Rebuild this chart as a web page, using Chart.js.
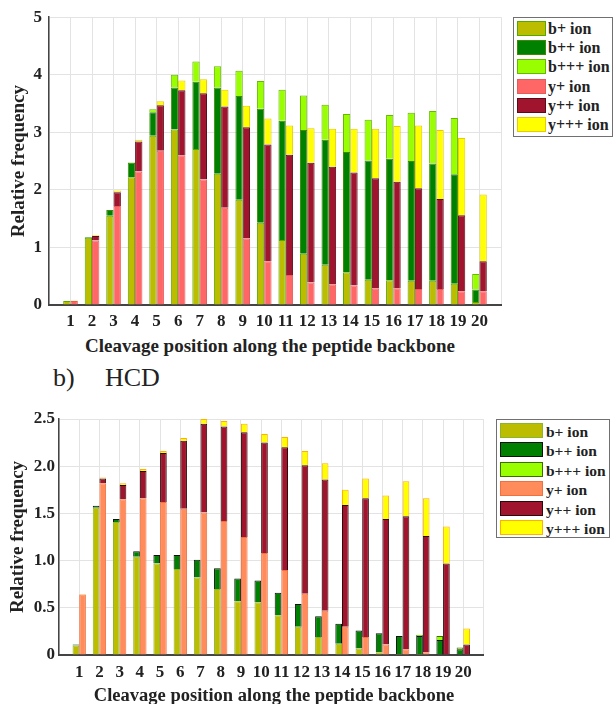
<!DOCTYPE html>
<html>
<head>
<meta charset="utf-8">
<script src="https://cdn.jsdelivr.net/npm/chart.js@4.4.1/dist/chart.umd.min.js"></script>
<style>
  body { margin:0; width:613px; height:704px; overflow:hidden; background:#fff; position:relative;
         font-family:"Liberation Serif","Times New Roman",serif; color:#222; }
  .wrap { position:absolute; left:0; width:613px; }
  .txt { position:absolute; white-space:nowrap; line-height:1; }
  .xtitle { font-weight:bold; transform:translateX(-50%); }
  .legend { position:absolute; border:1.5px solid #707070; box-sizing:border-box; background:#fff; }
  .row { position:absolute; white-space:nowrap; font-weight:bold; line-height:1; }
  .sw { position:absolute; box-sizing:border-box; border:1.5px solid; }
</style>
</head>
<body>
<div class="wrap" style="top:0;height:335px"><canvas id="chartA"></canvas></div>
<div class="txt xtitle" style="left:270px;top:336px;font-size:19px">Cleavage position along the peptide backbone</div>
<div class="txt" style="left:53px;top:365px;font-size:26px">b)</div>
<div class="txt" style="left:105px;top:365px;font-size:26px">HCD</div>
<div class="wrap" style="top:400px;height:290px"><canvas id="chartB"></canvas></div>
<div class="txt xtitle" style="left:274px;top:686px;font-size:18.5px">Cleavage position along the peptide backbone</div>
<div class="legend" id="legA"></div>
<div class="legend" id="legB"></div>
<script>
const positions = [1,2,3,4,5,6,7,8,9,10,11,12,13,14,15,16,17,18,19,20]
const ionNames = ['b+ ion','b++ ion','b+++ ion','y+ ion','y++ ion','y+++ ion']

// upper chart
const aB1 = [0.07,1.17,1.55,2.22,2.94,3.05,2.71,2.28,1.83,1.43,1.13,0.89,0.70,0.57,0.44,0.43,0.42,0.42,0.37,0.05]
const aB2 = [0.00,0.01,0.10,0.25,0.41,0.73,1.17,1.50,1.80,1.98,2.07,2.15,2.17,2.09,2.07,2.11,2.08,2.04,1.90,0.22]
const aB3 = [0.00,0.00,0.00,0.01,0.05,0.22,0.35,0.37,0.44,0.48,0.54,0.60,0.61,0.66,0.71,0.76,0.84,0.91,0.98,0.27]
const aY1 = [0.07,1.12,1.72,2.32,2.68,2.60,2.18,1.69,1.16,0.76,0.52,0.39,0.36,0.34,0.29,0.29,0.28,0.28,0.24,0.24]
const aY2 = [0.00,0.08,0.24,0.52,0.79,1.13,1.50,1.76,1.93,2.03,2.09,2.08,2.04,1.96,1.91,1.85,1.75,1.56,1.32,0.52]
const aY3 = [0.01,0.01,0.03,0.03,0.07,0.17,0.24,0.29,0.37,0.45,0.51,0.60,0.66,0.76,0.86,0.97,1.09,1.20,1.34,1.16]

// HCD
const hB1 = [0.10,1.56,1.41,1.04,0.97,0.91,0.82,0.70,0.57,0.56,0.42,0.30,0.19,0.12,0.07,0.03,0.01,0.01,0.00,0.00]
const hB2 = [0.01,0.02,0.03,0.06,0.09,0.15,0.19,0.22,0.24,0.23,0.24,0.24,0.22,0.21,0.19,0.20,0.19,0.19,0.16,0.06]
const hB3 = [0,0,0,0,0,0,0,0,0,0,0,0,0,0,0,0,0,0.015,0.04,0.02]
const hY1 = [0.64,1.82,1.65,1.66,1.62,1.55,1.51,1.42,1.25,1.08,0.90,0.65,0.47,0.30,0.19,0.11,0.06,0.03,0.005,0.00]
const hY2 = [0.00,0.05,0.15,0.29,0.52,0.72,0.94,1.00,1.11,1.17,1.30,1.36,1.39,1.29,1.47,1.33,1.41,1.23,0.965,0.11]
const hY3 = [0.005,0.01,0.02,0.02,0.02,0.03,0.05,0.06,0.09,0.09,0.11,0.15,0.17,0.16,0.21,0.25,0.37,0.40,0.39,0.17]

const aFill = ['#bcbc00','#008000','#99ff00','#ff6666','#a0142e','#ffff00']
const aLine = ['#55a800','#3d8c00','#66b800','#e85a5a','#5a0a18','#e6cc00']
const hFill = ['#bcbc00','#008000','#99ff00','#ff8c5a','#a0142e','#ffff00']
const hLine = ['#8db52a','#111111','#3c6e00','#f07040','#2a0a0a','#ffb000']

const serif = '"Liberation Serif","Times New Roman",serif'

// empty slot at each end so that 1..20 sit one step in from the axes
function pad(arr) { return [null].concat(arr, [null]) }

function makeChart(id, series, fills, lines, yMax, yStep, g) {
  const datasets = series.map((s, i) => ({
    label: ionNames[i],
    data: pad(s),
    stack: i < 3 ? 'b' : 'y',
    backgroundColor: fills[i],
    borderColor: lines[i],
    borderWidth: 1
  }))
  return new Chart(document.getElementById(id), {
    type: 'bar',
    data: { labels: pad(positions).map(v => v === null ? '' : String(v)), datasets: datasets },
    options: {
      responsive: true,
      maintainAspectRatio: false,
      animation: false,
      categoryPercentage: g.cat,
      barPercentage: 1.0,
      layout: { padding: { top: g.top, right: 613 - g.right, left: 0, bottom: 0 } },
      plugins: { legend: { display: false }, tooltip: { enabled: false } },
      scales: {
        x: {
          stacked: true,
          offset: false,
          grid: { offset: false, color: '#e3e3e3', drawTicks: false },
          border: { color: '#444', width: 2 },
          ticks: { autoSkip: false, maxRotation: 0, padding: g.xPad, color: '#222',
                   font: { family: serif, size: 17, weight: 'bold' } },
          afterFit: sc => { sc.height = g.h - g.bottom }
        },
        y: {
          stacked: true,
          min: 0, max: yMax,
          grid: { color: '#e3e3e3', drawTicks: false },
          border: { color: '#444', width: 1.5 },
          ticks: { stepSize: yStep, padding: g.yPad, color: '#222',
                   font: { family: serif, size: 17, weight: 'bold' } },
          title: { display: true, text: 'Relative frequency', color: '#222', padding: { top: g.tPad, bottom: 0 },
                   font: { family: serif, size: 19, weight: 'bold' } },
          afterFit: sc => { sc.width = g.left }
        }
      }
    }
  })
}

function makeLegend(el, chart, L) {
  el.style.left = L.x + 'px'; el.style.top = L.y + 'px'
  el.style.width = L.w + 'px'; el.style.height = L.h + 'px'
  chart.data.datasets.forEach((ds, i) => {
    const top = L.rowTop + i * L.pitch
    const sw = document.createElement('div')
    sw.className = 'sw'
    sw.style.cssText = 'left:' + L.boxX + 'px;top:' + top + 'px;width:' + L.boxW + 'px;height:' + L.boxH + 'px;background:' + ds.backgroundColor + ';border-color:' + ds.borderColor
    el.appendChild(sw)
    const t = document.createElement('div')
    t.className = 'row'
    t.style.cssText = 'left:' + L.textX + 'px;top:' + (top + L.textDy) + 'px;font-size:' + L.fs + 'px'
    t.textContent = ds.label
    el.appendChild(t)
  })
}

const chartA = makeChart('chartA', [aB1, aB2, aB3, aY1, aY2, aY3], aFill, aLine, 5, 1,
  { left: 49, right: 501, top: 17, bottom: 305, h: 335, cat: 0.68, xPad: 6, yPad: 7, tPad: 8 })
const chartB = makeChart('chartB', [hB1, hB2, hB3, hY1, hY2, hY3], hFill, hLine, 2.5, 0.5,
  { left: 59, right: 483.5, top: 19, bottom: 255, h: 290, cat: 0.66, xPad: 7, yPad: 4, tPad: 7 })

makeLegend(document.getElementById('legA'), chartA,
  { x: 513, y: 17, w: 100, h: 120, rowTop: 3, pitch: 19.2, boxX: 3, boxW: 29, boxH: 15, textX: 34, textDy: 0, fs: 16 })
makeLegend(document.getElementById('legB'), chartB,
  { x: 496, y: 419, w: 114, h: 119, rowTop: 3, pitch: 19.4, boxX: 3, boxW: 43, boxH: 15, textX: 49, textDy: 1, fs: 15.5 })
</script>
</body>
</html>
